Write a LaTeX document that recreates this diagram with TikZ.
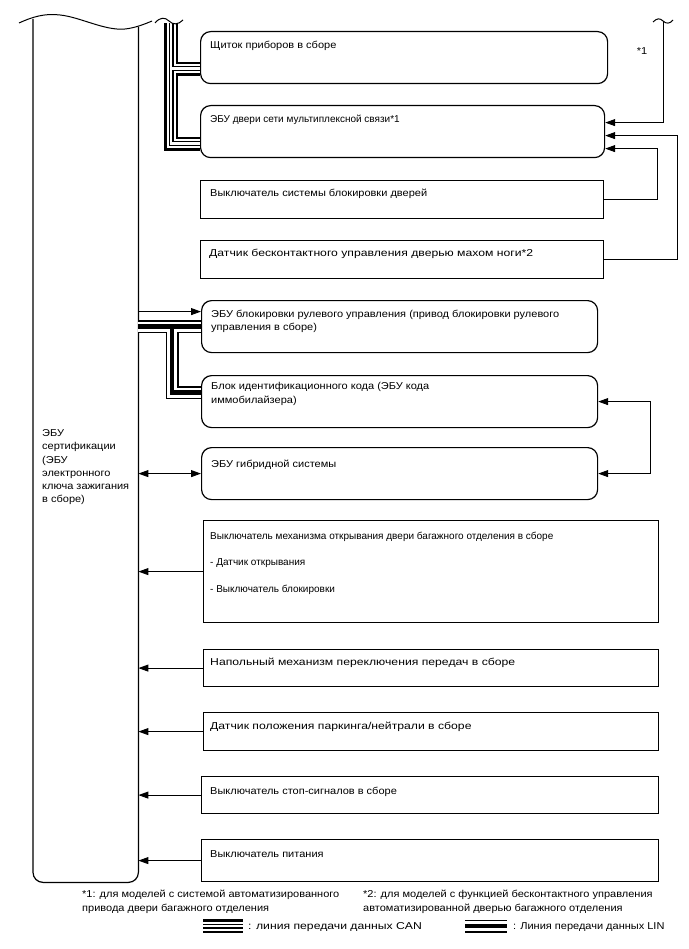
\documentclass[tikz,border=0pt]{standalone}
\usepackage{fontspec}
\setmainfont{Liberation Sans}[FakeStretch=1.1]
\newfontfamily\widefont{Liberation Sans}[FakeStretch=1.22]
\newfontfamily\plainfont{Liberation Sans}
\usetikzlibrary{arrows.meta, calc, positioning}

\tikzset{
  every node/.style={font=\fontsize{10}{13.25}\selectfont},
  rbox/.style={draw=black, line width=1.2pt, rounded corners=10pt, anchor=north west, inner sep=0pt},
  sbox/.style={draw=black, line width=1.2pt, anchor=north west, inner sep=0pt},
  txt/.style={anchor=north west, align=left, inner sep=0pt},
  widetxt/.style={txt, font=\widefont\fontsize{10}{13.25}\selectfont},
  plaintxt/.style={txt, font=\plainfont\fontsize{10}{13.25}\selectfont},
  arr/.style={-{Triangle[length=10pt,width=7pt]}, line width=0.9pt},
  darr/.style={{Triangle[length=10pt,width=7pt]}-{Triangle[length=10pt,width=7pt]}, line width=0.9pt},
  % bus lines, drawn in layers
  canA/.style={line width=14pt},
  canB/.style={line width=9pt, white},
  canC/.style={line width=5pt},
  canD/.style={line width=2.6pt, white},
  linA/.style={line width=13pt},
  linB/.style={line width=10pt, white},
  linC/.style={line width=4.5pt},
}

\begin{document}
\begin{tikzpicture}[x=1pt, y=-1pt]
    \useasboundingbox (0,0) rectangle (688,949);

    % Certification ECU
    \node[minimum width=105pt, minimum height=860pt, anchor=north west, inner sep=0pt] (ecu) at (33,22) {};
    \draw[line width=1.2pt, rounded corners=10pt]
      ([yshift=3pt]ecu.north west) -- (ecu.south west) -- (ecu.south east) -- ([yshift=-5pt]ecu.north east);
    \draw[line width=1pt] (19,23) .. controls (32,17) and (45,13) .. (60,15)
      .. controls (80,17) and (105,31) .. (125,29) .. controls (135,28) and (145,24) .. (152,21);
    \node[txt] (ecu-txt) at (42,429.5)
      {ЭБУ\\сертификации\\(ЭБУ\\электронного\\ключа зажигания\\в сборе)};

    % Main objects
    \node[rbox, minimum width=407pt, minimum height=52pt] (instr) at (200,31) {};
    \node[txt] (instr-txt) at (210,40.5) {Щиток приборов в сборе};

    \node[rbox, minimum width=404pt, minimum height=52pt] (doorecu) at (200,105) {};
    \node[plaintxt] (doorecu-txt) at (210,114.5) {ЭБУ двери сети мультиплексной связи*1};

    \node[sbox, minimum width=403pt, minimum height=38pt] (lockswitch) at (200,180) {};
    \node[txt] (lockswitch-txt) at (210,188.5) {Выключатель системы блокировки дверей};

    \node[sbox, minimum width=403pt, minimum height=38pt] (kicksensor) at (200,240) {};
    \node[widetxt] (kicksensor-txt) at (209,248.5) {Датчик бесконтактного управления дверью махом ноги*2};

    \node[rbox, minimum width=396pt, minimum height=52pt] (steerlock) at (201,300) {};
    \node[txt] (steerlock-txt) at (211,309.5)
      {ЭБУ блокировки рулевого управления (привод блокировки рулевого\\управления в сборе)};

    \node[rbox, minimum width=396pt, minimum height=52pt] (immob) at (201,375) {};
    \node[txt] (immob-txt) at (211,382.5)
      {Блок идентификационного кода (ЭБУ кода\\иммобилайзера)};

    \node[rbox, minimum width=396pt, minimum height=52pt] (hybrid) at (201,447) {};
    \node[txt] (hybrid-txt) at (211,459.5) {ЭБУ гибридной системы};

    \node[sbox, minimum width=455pt, minimum height=102pt] (trunk) at (203,520) {};
    \node[plaintxt] (trunk-txt) at (210,531.5)
      {Выключатель механизма открывания двери багажного отделения в сборе\\[13.25pt]
       - Датчик открывания\\[13.25pt]
       - Выключатель блокировки};

    \node[sbox, minimum width=455pt, minimum height=37pt] (shifter) at (203,649) {};
    \node[widetxt] (shifter-txt) at (210,657.5) {Напольный механизм переключения передач в сборе};

    \node[sbox, minimum width=455pt, minimum height=38pt] (pnsensor) at (203,712) {};
    \node[widetxt] (pnsensor-txt) at (210,721.5) {Датчик положения паркинга/нейтрали в сборе};

    \node[sbox, minimum width=457pt, minimum height=37pt] (stopswitch) at (201,776) {};
    \node[txt] (stopswitch-txt) at (210,786.5) {Выключатель стоп-сигналов в сборе};

    \node[sbox, minimum width=457pt, minimum height=42pt] (powerswitch) at (201,839) {};
    \node[txt] (powerswitch-txt) at (210,850.5) {Выключатель питания};

    % CAN bus
    \coordinate (cantop) at (171,23);
    \coordinate (canjoin1) at ($(instr.west)+(0,11)$);
    \coordinate (canjoin2) at ($(doorecu.west)+(0,12)$);
    \foreach \layer in {canA,canB,canC,canD}{
      \draw[\layer] (cantop) -- (cantop |- canjoin2) -- (canjoin2);
      \draw[\layer] (cantop |- canjoin1) -- (canjoin1);
    }
    \draw[line width=1pt] (155,23) .. controls (160,17) and (165,17) .. (169,21)
      .. controls (173,25) and (178,25) .. (183,20);

    % LIN bus
    \coordinate (linsplit) at (172,326);
    \coordinate (linjoin) at ($(immob.west)+(0,-9)$);
    \foreach \layer in {linA,linB,linC}{
      \draw[\layer] (steerlock.west -| ecu.east) -- (steerlock.west);
      \draw[\layer] (linsplit) -- (linsplit |- linjoin) -- (linjoin);
    }

    % Signal lines
    \coordinate (ext1) at (663,22);
    \draw[line width=1pt] (653,22) .. controls (657,18) and (660,18) .. (663,21)
      .. controls (666,24) and (670,24) .. (673,20);
    \node (ext1-lbl) at (642,51) {*1};
    \draw[arr] (ext1) |- ($(doorecu.east)+(0,-9)$);
    \draw[arr] (kicksensor.east) -- ++(73,0) |- ($(doorecu.east)+(0,4)$);
    \draw[arr] (lockswitch.east) -- ++(53,0) |- ($(doorecu.east)+(0,17)$);

    \coordinate (steerin) at ($(steerlock.west)+(0,-15)$);
    \draw[arr] (steerin -| ecu.east) -- (steerin);
    \draw[darr] (immob.east) -- ++(52,0) |- (hybrid.east);
    \draw[darr] (hybrid.west -| ecu.east) -- (hybrid.west);

    \foreach \b in {trunk,shifter,pnsensor,stopswitch,powerswitch}
      \draw[arr] (\b.west) -- (\b.west -| ecu.east);

    % Notes and legend
    \node[txt, font=\fontsize{10}{14}\selectfont] (note1) at (82,889.5)
      {*1: для моделей с системой автоматизированного\\привода двери багажного отделения};
    \node[txt, font=\fontsize{10}{14}\selectfont] (note2) at (363,889.5)
      {*2: для моделей с функцией бесконтактного управления\\автоматизированной дверью багажного отделения};

    \coordinate (canleg-a) at (203,926);
    \coordinate (canleg-b) at (243,926);
    \coordinate (linleg-a) at (465,926);
    \coordinate (linleg-b) at (507,926);
    \foreach \layer in {canA,canB,canC,canD}
      \draw[\layer] (canleg-a) -- (canleg-b);
    \foreach \layer in {linA,linB,linC}
      \draw[\layer] (linleg-a) -- (linleg-b);
    \node[widetxt] (canleg-txt) at (248,922.5) {: линия передачи данных CAN};
    \node[txt] (linleg-txt) at (513,922.5) {: Линия передачи данных LIN};

\end{tikzpicture}
\end{document}
